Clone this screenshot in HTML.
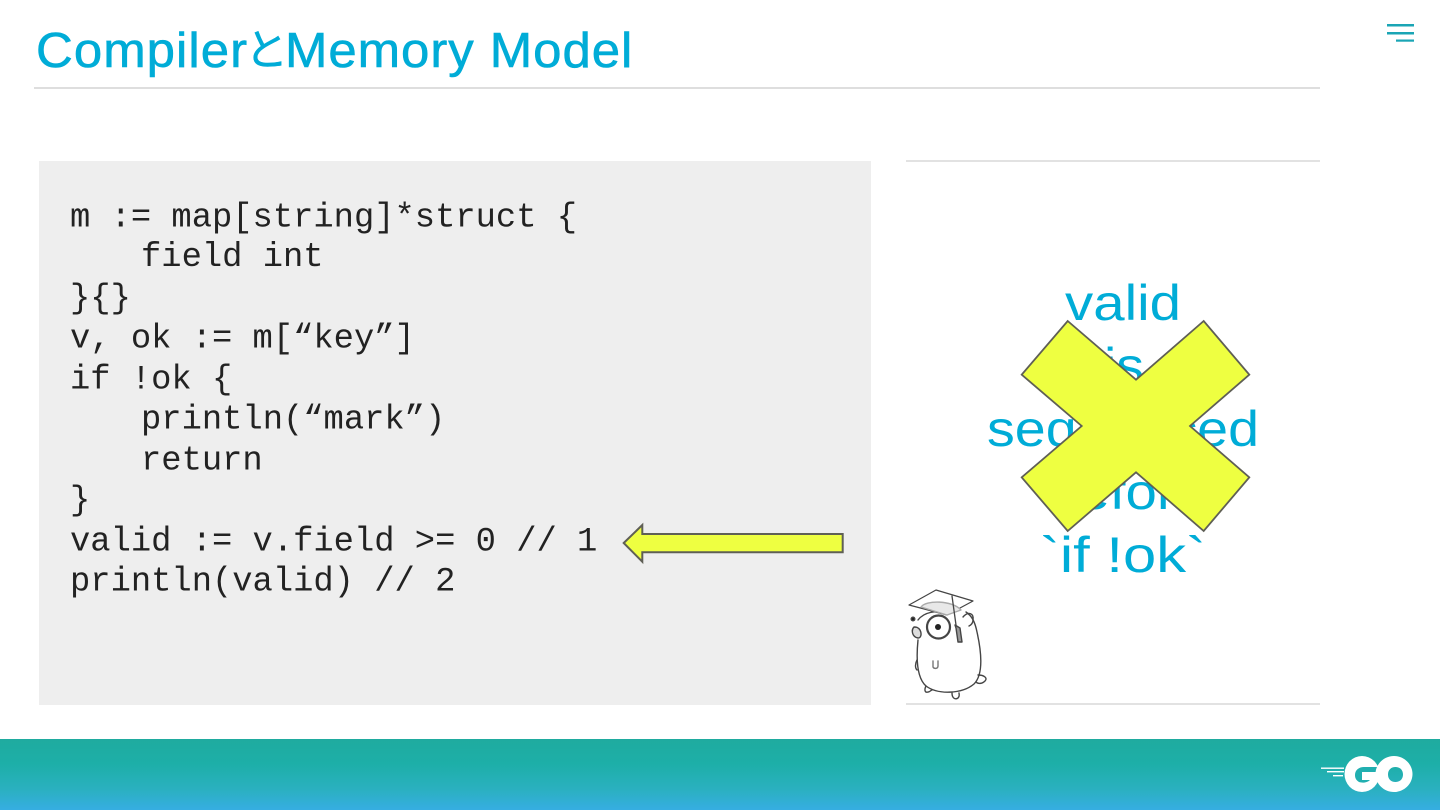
<!DOCTYPE html>
<html><head><meta charset="utf-8"><style>
html,body{margin:0;padding:0;background:#fff;width:1440px;height:810px;overflow:hidden}
svg{display:block}
.t{font-family:"Liberation Sans","Noto Sans CJK JP",sans-serif;fill:#00acd7}
.h{stroke:#00acd7;stroke-width:.6}
.c{font-family:"Liberation Mono",monospace;font-size:33.8px;fill:#222;white-space:pre}
</style></head><body>
<svg width="1440" height="810" viewBox="0 0 1440 810" xmlns="http://www.w3.org/2000/svg">
<defs>
<linearGradient id="g" x1="0" y1="0" x2="0" y2="1">
<stop offset="0" stop-color="#1fab9f"/><stop offset=".35" stop-color="#1dafa8"/><stop offset=".7" stop-color="#2ab0bf"/><stop offset="1" stop-color="#36aee2"/></linearGradient>
<filter id="b" x="-5%" y="-5%" width="110%" height="110%"><feGaussianBlur stdDeviation=".35"/></filter>
</defs>
<text class="t h" transform="translate(36,67) scale(1.04,1)" font-size="49" textLength="203" lengthAdjust="spacing">Compiler</text>
<text class="t" x="245" y="65" font-size="43" stroke="#00acd7" stroke-width=".5">と</text>
<text class="t h" transform="translate(285,67) scale(1.04,1)" font-size="49" textLength="334" lengthAdjust="spacing">Memory Model</text>
<rect x="34" y="87" width="1286" height="2" fill="#dedede"/>
<rect x="1387" y="24" width="27" height="2.500" fill="#1aa5b5"/><rect x="1387" y="32" width="27" height="2.500" fill="#1aa5b5"/><rect x="1396" y="39.500" width="18" height="2.200" fill="#1aa5b5"/>
<rect x="39" y="161" width="832" height="544" fill="#eeeeee"/>
<text class="c" x="70" y="226.500" xml:space="preserve">m := map[string]*struct {</text>
<text class="c" x="141" y="266" xml:space="preserve">field int</text>
<text class="c" x="70" y="307.500" xml:space="preserve">}{}</text>
<text class="c" x="70" y="347.500" xml:space="preserve">v, ok := m[“key”]</text>
<text class="c" x="70" y="388.500" xml:space="preserve">if !ok {</text>
<text class="c" x="141" y="428.500" xml:space="preserve">println(“mark”)</text>
<text class="c" x="141" y="469.500" xml:space="preserve">return</text>
<text class="c" x="70" y="509.500" xml:space="preserve">}</text>
<text class="c" x="70" y="550.500" xml:space="preserve">valid := v.field &gt;= 0 // 1</text>
<text class="c" x="70" y="590.500" xml:space="preserve">println(valid) // 2</text>
<polygon points="623.700,543 642.300,525 642.300,534 842.700,534 842.700,552.300 642.300,552.300 642.300,561.700" fill="#eeff41" stroke="#5f5f55" stroke-width="2"/>
<rect x="906" y="160" width="414" height="2" fill="#e2e2e2"/>
<rect x="906" y="703" width="414" height="2" fill="#e2e2e2"/>
<g font-size="50">
<text class="t" x="1065" y="320" textLength="116" lengthAdjust="spacingAndGlyphs">valid</text>
<text class="t" x="1104" y="383" textLength="40" lengthAdjust="spacingAndGlyphs">is</text>
<text class="t" x="987" y="446" textLength="272" lengthAdjust="spacingAndGlyphs">sequenced</text>
<text class="t" x="1047" y="509" textLength="160" lengthAdjust="spacingAndGlyphs">before</text>
<text class="t" x="1040" y="572" textLength="166" lengthAdjust="spacingAndGlyphs">`if !ok`</text>
</g>
<polygon points="1067.700,321 1136,379.700 1203.700,321 1249.300,374.700 1190,426 1249.300,477.300 1203.700,531 1136,472.300 1067.700,531 1021.700,477.300 1081.700,426 1021.700,374.700" fill="#eeff41" stroke="#5f5f55" stroke-width="1.800"/>
<!-- gopher -->
<g filter="url(#b)" fill="none" stroke="#444" stroke-width="1.400" stroke-linecap="round" stroke-linejoin="round">
<path d="M918 640 C916 660 917 678 926 686 C938 695 962 694 974 684 C984 674 981 650 977 632 C975 622 972 616 966 612 M948 613 C936 610 924 612 918 620" fill="#fff"/>
<path d="M963 617 C968 611 974 613 973 620 C973 623 971 625 969 626"/>
<path d="M909 605 L936 590 L973 601 L947 615 Z" fill="#fff" stroke-width="1.200"/>
<path d="M921 607 C926 600 952 600 961 610 L947 615Z" stroke="#aaa" fill="#e8e8e8"/>
<circle cx="938.500" cy="627" r="11.500" fill="#fff" stroke-width="2.200"/>
<circle cx="938" cy="627" r="3" fill="#222" stroke="none"/>
<path d="M914 627 C911 630 912 637 918 638 C921 638 922 634 920 630 C918 627 916 627 914 627Z" fill="#ddd"/>
<circle cx="913" cy="619" r="1.800" fill="#222"/>
<path d="M952 596 L956 625" stroke-width="1.300"/>
<path d="M955 625 L956 628 L958 642 L962 642 L960 628Z" fill="#999"/>
<path d="M933 661 L933 667 C934 669 938 669 938 666 L938 661" stroke="#777"/>
<path d="M917 660 C915 664 915 668 917 670"/>
<path d="M926 686 C924 690 925 693 928 692 C930 692 931 690 932 690 M952 693 C952 698 955 700 958 698 C960 696 959 694 959 693 M978 675 C984 675 988 678 985 681 C982 684 978 684 976 682"/>
</g>
<rect x="0" y="739" width="1440" height="71" fill="url(#g)"/>
<!-- GO logo -->
<g fill="#fff">
<rect x="1321" y="767.500" width="23" height="1.400"/><rect x="1327" y="771" width="17" height="1.400"/><rect x="1333" y="775" width="10" height="1.400"/>
<ellipse cx="1362" cy="774" rx="17.500" ry="18"/>
<path fill="#21afb0" d="M1355 775 C1355 770 1359 767 1364 767 L1380 767 L1380 772 L1362 772 L1362 780 L1370 780 C1367 783 1362 783 1359 782 C1356 780 1355 778 1355 775Z"/>
<rect x="1362" y="772.500" width="17" height="7.500"/>
<path fill-rule="evenodd" d="M1394 756 C1404 756 1412.500 764 1412.500 774 C1412.500 784 1404 792 1394 792 C1384 792 1375.500 784 1375.500 774 C1375.500 764 1384 756 1394 756Z M1395.500 767 C1391 767 1388 770 1388 774.500 C1388 779 1391 782 1395.500 782 C1400 782 1403 779 1403 774.500 C1403 770 1400 767 1395.500 767Z"/>
</g>
</svg>
</body></html>
